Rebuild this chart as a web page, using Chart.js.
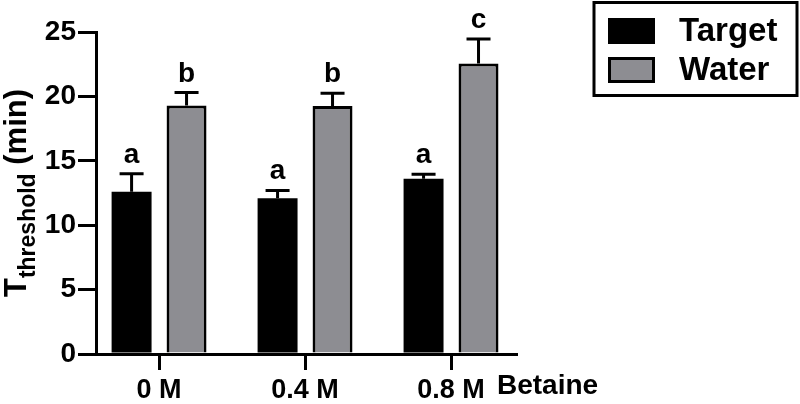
<!doctype html>
<html lang="en">
<head>
    <meta charset="utf-8">
    <title>Tthreshold vs Betaine</title>
    <script src="https://cdn.jsdelivr.net/npm/chart.js@4"></script>
</head>

<style>
    body {margin: 0; background: white;}
    #wrap {width: 800px; height: 404px;}
</style>

<body>
<div id="wrap"><canvas id="bars"></canvas></div>

<script>

    // values
    var categories  = ["0 M", "0.4 M", "0.8 M"];
    var target      = [12.6, 12.1, 13.6];
    var target_err  = [1.4, 0.6, 0.35];
    var water       = [19.3, 19.25, 22.55];
    var water_err   = [1.0, 1.0, 1.9];
    var target_sig  = ["a", "a", "a"];
    var water_sig   = ["b", "b", "c"];
    var y_ticks     = [0, 5, 10, 15, 20, 25];

    var FONT = "'Liberation Sans', Arial, sans-serif";
    var GRAY = "rgb(141,141,146)";

    // error bars + letters on top of each bar
    var errorBars = {
        id: "errorBars",
        afterDatasetsDraw: function (chart) {
            var ctx = chart.ctx;
            var y = chart.scales.y;
            ctx.save();
            chart.data.datasets.forEach(function (ds, di) {
                var meta = chart.getDatasetMeta(di);
                meta.data.forEach(function (bar, i) {
                    var top = y.getPixelForValue(ds.data[i].y + ds.err[i]);
                    ctx.strokeStyle = "black";
                    ctx.lineWidth = 3;
                    ctx.beginPath();
                    ctx.moveTo(bar.x, bar.y);
                    ctx.lineTo(bar.x, top);
                    ctx.moveTo(bar.x - 12, top);
                    ctx.lineTo(bar.x + 12, top);
                    ctx.stroke();
                    ctx.fillStyle = "black";
                    ctx.font = "bold 28px " + FONT;
                    ctx.textAlign = "center";
                    ctx.textBaseline = "alphabetic";
                    ctx.fillText(ds.sig[i], bar.x, top - 11);
                });
            });
            ctx.restore();
        }
    };

    // rotated y title with subscript, "Betaine" and the boxed legend
    var extras = {
        id: "extras",
        afterDraw: function (chart) {
            var ctx = chart.ctx;
            var area = chart.chartArea;
            ctx.save();
            ctx.fillStyle = "black";

            // y title
            var f1 = "bold 31px " + FONT, f2 = "bold 23px " + FONT;
            ctx.font = f1;
            var wT = ctx.measureText("T").width;
            var wM = ctx.measureText(" (min)").width;
            ctx.font = f2;
            var wS = ctx.measureText("threshold").width;
            var total = wT + wS + wM;
            ctx.translate(26, (area.top + area.bottom) / 2);
            ctx.rotate(-Math.PI / 2);
            ctx.textBaseline = "alphabetic";
            ctx.textAlign = "left";
            var x0 = -total / 2;
            ctx.font = f1;
            ctx.fillText("T", x0, 0);
            ctx.font = f2;
            ctx.fillText("threshold", x0 + wT, 9);
            ctx.font = f1;
            ctx.fillText(" (min)", x0 + wT + wS, 0);
            ctx.setTransform(1, 0, 0, 1, 0, 0);

            // x axis name
            ctx.font = "bold 28px " + FONT;
            ctx.textAlign = "left";
            ctx.textBaseline = "middle";
            ctx.fillText("Betaine", 497, 386);

            // legend box
            ctx.lineWidth = 3;
            ctx.strokeStyle = "black";
            ctx.strokeRect(594, 2.5, 203, 93);
            chart.data.datasets.forEach(function (ds, i) {
                var sy = i == 0 ? 18 : 57;
                ctx.fillStyle = ds.backgroundColor;
                ctx.fillRect(608, sy, 47, 26);
                ctx.strokeRect(609.5, sy + 1.5, 44, 23);
                ctx.fillStyle = "black";
                ctx.font = "bold 33px " + FONT;
                ctx.fillText(ds.label, 679, sy + 14);
            });
            ctx.restore();
        }
    };

    new Chart("bars", {
        type: "bar",
        data: {
            datasets: [
                {
                    label: "Target",
                    data: target.map(function (v, i) { return {x: i, y: v}; }),
                    err: target_err,
                    sig: target_sig,
                    backgroundColor: "black",
                    borderColor: "black",
                    borderWidth: 0
                },
                {
                    label: "Water",
                    data: water.map(function (v, i) { return {x: i, y: v}; }),
                    err: water_err,
                    sig: water_sig,
                    backgroundColor: GRAY,
                    borderColor: "black",
                    borderWidth: 3,
                    borderSkipped: "bottom"
                }
            ]
        },
        options: {
            responsive: true,
            maintainAspectRatio: false,
            animation: false,
            categoryPercentage: 0.753,
            barPercentage: 0.727,
            layout: {padding: {top: 32, right: 284, left: 0, bottom: 0}},
            plugins: {
                legend: {display: false},
                tooltip: {enabled: false}
            },
            scales: {
                x: {
                    type: "linear",
                    offset: false,
                    min: -0.432,
                    max: 2.445,
                    afterBuildTicks: function (scale) {
                        scale.ticks = categories.map(function (c, i) { return {value: i}; });
                    },
                    afterFit: function (scale) { scale.height = 50; },
                    ticks: {
                        callback: function (v) { return categories[v]; },
                        color: "black",
                        font: {family: FONT, size: 27, weight: "bold"},
                        padding: 4,
                        maxRotation: 0
                    },
                    grid: {
                        offset: false,
                        drawOnChartArea: false,
                        color: "black",
                        lineWidth: 3,
                        tickLength: 16
                    },
                    border: {color: "black", width: 3}
                },
                y: {
                    min: 0,
                    max: 25,
                    afterBuildTicks: function (scale) {
                        scale.ticks = y_ticks.map(function (v) { return {value: v}; });
                    },
                    afterFit: function (scale) { scale.width = 96; },
                    ticks: {
                        color: "black",
                        font: {family: FONT, size: 28, weight: "bold"},
                        padding: 2
                    },
                    grid: {
                        drawOnChartArea: false,
                        color: "black",
                        lineWidth: 3,
                        tickLength: 18
                    },
                    border: {color: "black", width: 3}
                }
            }
        },
        plugins: [errorBars, extras]
    });

</script>
</body>
</html>
